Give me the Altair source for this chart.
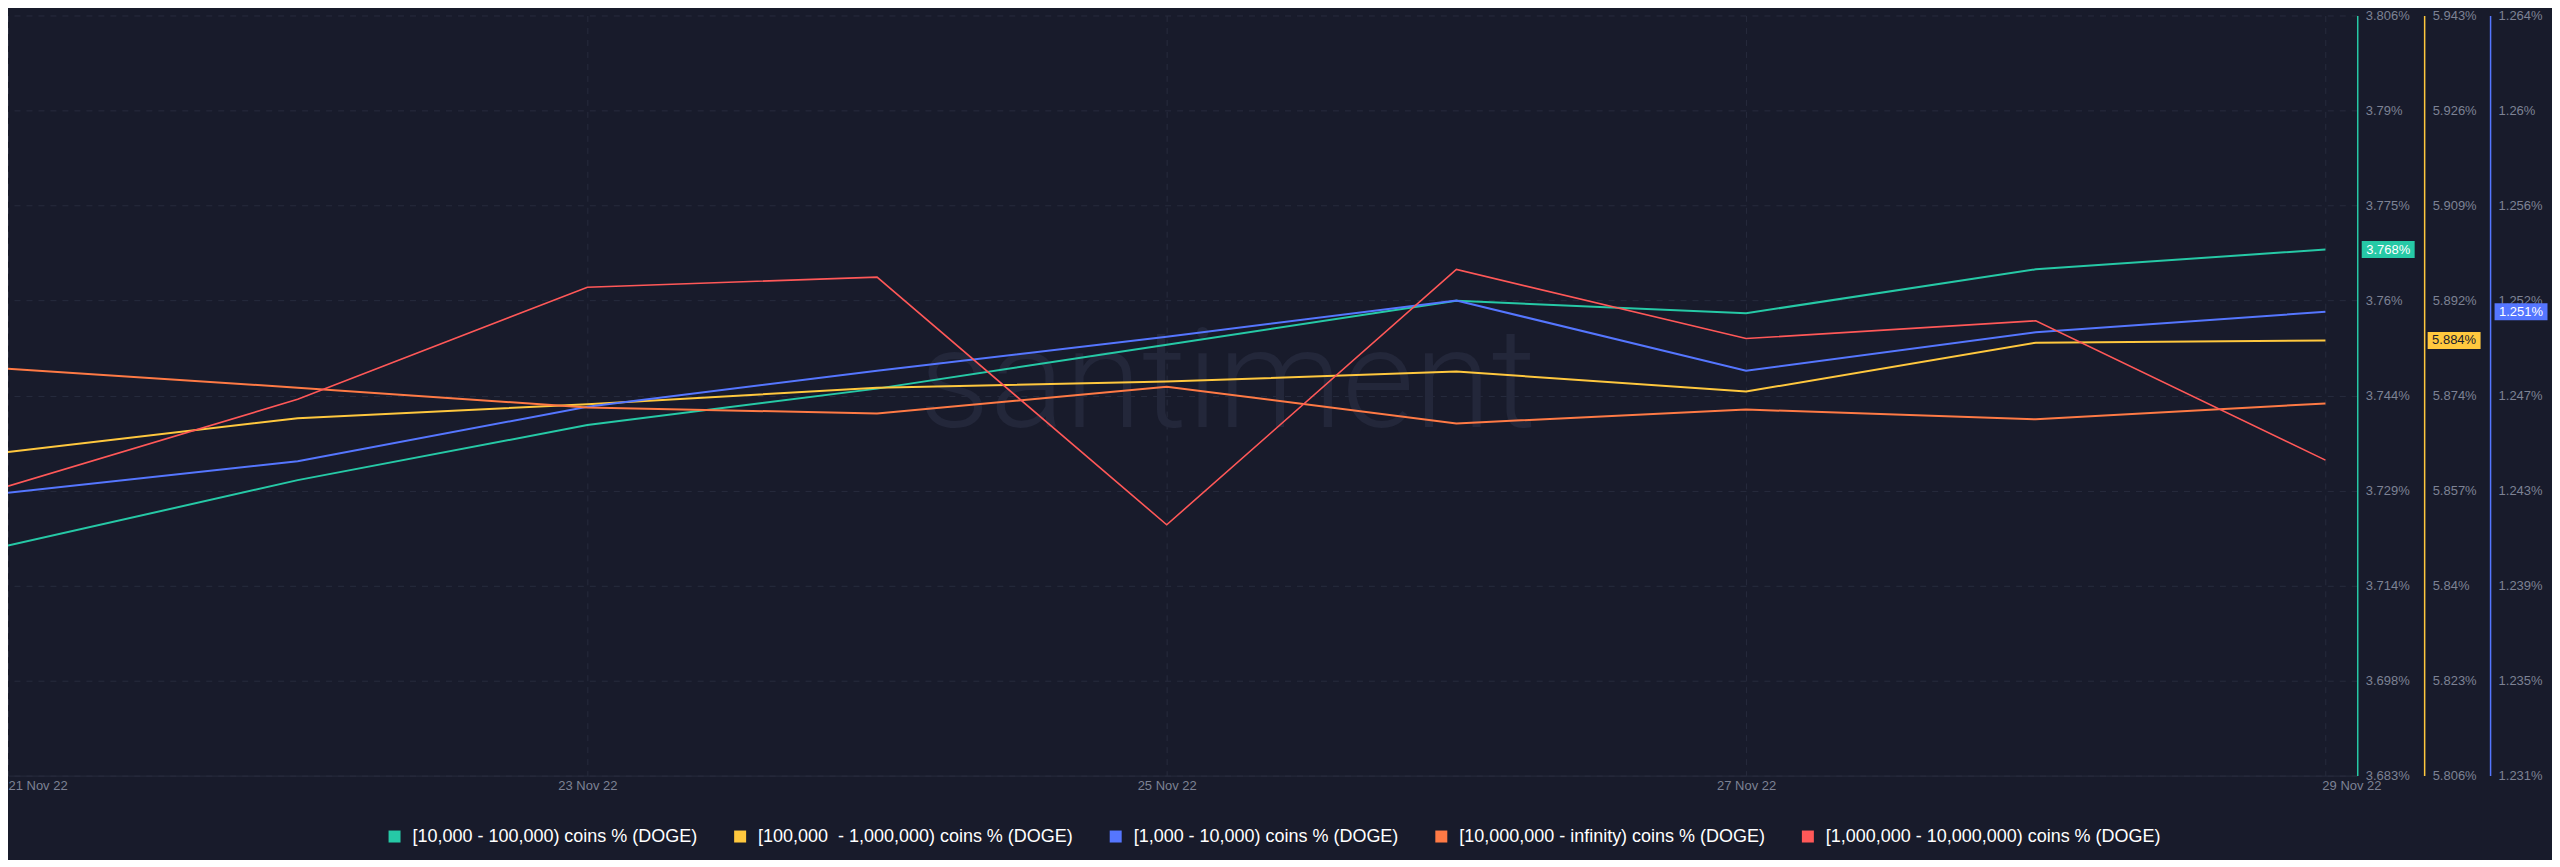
import altair as alt
import pandas as pd

# ---------------- data ----------------
dates = ["2022-11-21T00:00:00", "2022-11-22T00:00:00", "2022-11-23T00:00:00",
         "2022-11-24T00:00:00", "2022-11-25T00:00:00", "2022-11-26T00:00:00",
         "2022-11-27T00:00:00", "2022-11-28T00:00:00", "2022-11-29T00:00:00"]

series_names = [
    "[10,000 - 100,000) coins % (DOGE)",
    "[100,000\u00a0 - 1,000,000) coins % (DOGE)",
    "[1,000 - 10,000) coins % (DOGE)",
    "[10,000,000 - infinity) coins % (DOGE)",
    "[1,000,000 - 10,000,000) coins % (DOGE)",
]
series_colors = ["#26c9a6", "#ffc83e", "#5576ff", "#ff7a45", "#ff5858"]

teal_values = [3.7200, 3.7306, 3.7395, 3.7454, 3.7525, 3.7596, 3.7576, 3.7647, 3.7679]
yellow_values = [5.8643, 5.8704, 5.8729, 5.8759, 5.8770, 5.8788, 5.8752, 5.8840, 5.8844]
blue_values = [1.2431, 1.2445, 1.2469, 1.2485, 1.2500, 1.2516, 1.2485, 1.2502, 1.2511]
orange_values = [86.2606, 86.2531, 86.2453, 86.2429, 86.2535, 86.2390, 86.2445, 86.2406, 86.2469]
red_values = [2.6457, 2.6594, 2.6771, 2.6787, 2.6396, 2.6799, 2.6690, 2.6718, 2.6498]

all_values = [teal_values, yellow_values, blue_values, orange_values, red_values]

# y-domains of each series' own scale (the three visible right axes + two hidden)
domains = [
    [3.6828, 3.80576],
    [5.806, 5.94296],
    [1.2306, 1.2642],
    [86.10, 86.40],
    [2.60, 2.72],
]

x_tick_dates = [(2022, 11, 21), (2022, 11, 23), (2022, 11, 25), (2022, 11, 27), (2022, 11, 29)]

# ---------------- styling ----------------
BG = "#181b2b"
GRID = "#272b3d"
GRAY = "#7d8294"
FONT = "Liberation Sans"
PLOT_W = 2352
PLOT_H = 761

rows = []
for name, vals in zip(series_names, all_values):
    for d, v in zip(dates, vals):
        rows.append({"date": d, "series": name, "value": v})
df = pd.DataFrame(rows)

x_scale = alt.Scale(domain=[alt.DateTime(year=2022, month=11, date=21),
                            alt.DateTime(year=2022, month=11, date=29, hours=2, minutes=38)])

color_scale = alt.Scale(domain=series_names, range=series_colors)

# square symbols drawn as a thick stroke around a small square -> solid 12x12 squares
legend = alt.Legend(
    orient="none", legendX=378, legendY=813, direction="horizontal", columns=5,
    title=None, symbolType="square", symbolSize=36, symbolStrokeWidth=6,
    labelFontSize=18, labelColor="#ffffff", labelFont=FONT, labelLimit=800,
    labelOffset=9, columnPadding=27, padding=0,
)


def tick_values(dom):
    lo, hi = dom
    return [lo + i * (hi - lo) / 8 for i in range(9)]


def y_axis(idx, offset, grid):
    return alt.Axis(
        orient="right", offset=offset, values=tick_values(domains[idx]),
        labelExpr="format(datum.value, '.3~f') + '%'",
        domainColor=series_colors[idx], domainWidth=1.5,
        ticks=False, tickSize=0, labelPadding=8,
        labelColor=GRAY, labelFontSize=13, labelFont=FONT,
        labelAlign="left", labelBaseline="middle",
        labelFlush=False, labelOverlap=False, labelBound=False,
        grid=grid, gridColor=GRID, gridDash=[6, 6], gridWidth=1,
        title=None,
    )


x_axis = alt.Axis(
    values=[alt.DateTime(year=y, month=m, date=d) for (y, m, d) in x_tick_dates],
    format="%d %b %y", labelColor=GRAY, labelFontSize=13, labelFont=FONT,
    ticks=False, tickSize=0, labelPadding=4,
    domainColor=GRID, domainWidth=1,
    grid=True, gridColor=GRID, gridDash=[6, 6], gridWidth=1,
    labelFlush=True, labelOverlap=False,
    labelOffset={"condition": {"test": "datum.value > datetime(2022, 10, 28)", "value": 26},
                 "value": 0},
    title=None,
)

visible_axes = {0: y_axis(0, 0, True), 1: y_axis(1, 67, False), 2: y_axis(2, 133, False)}

layers = []

# watermark
wm = alt.Chart(pd.DataFrame({"t": ["santiment"]})).mark_text(
    font="Roboto", fontSize=140, fontWeight=300, color="#23273a",
    align="center", baseline="alphabetic",
).encode(text="t:N", x=alt.value(1221), y=alt.value(412))
layers.append(wm)

for i, name in enumerate(series_names):
    line = alt.Chart(df).transform_filter(
        alt.datum.series == name
    ).mark_line(strokeWidth=2 if i != 4 else 1.6, clip=True).encode(
        x=alt.X("date:T", scale=x_scale, axis=x_axis),
        y=alt.Y("value:Q", scale=alt.Scale(domain=domains[i], zero=False, nice=False),
                axis=visible_axes.get(i, None)),
        color=alt.Color("series:N", scale=color_scale, legend=legend),
    )
    layers.append(line)

# last-value badges on the three visible axes
BOX_PATH = "M-1,-0.32L1,-0.32L1,0.32L-1,0.32Z"
badge_x = [2383, 2449, 2516]
badge_text_color = ["#ffffff", "#1a1d2d", "#ffffff"]
last_df = df[df["date"] == dates[-1]]
for i in range(3):
    base = alt.Chart(last_df).transform_filter(alt.datum.series == series_names[i])
    ysc = alt.Y("value:Q", scale=alt.Scale(domain=domains[i], zero=False, nice=False), axis=None)
    box = base.mark_point(shape=BOX_PATH, size=2809, filled=True, fill=series_colors[i],
                          opacity=1, strokeWidth=0, clip=False).encode(
        x=alt.value(badge_x[i]), y=ysc)
    txt = base.transform_calculate(
        lab="format(datum.value, '.3f') + '%'"
    ).mark_text(align="center", baseline="middle", fontSize=13, font=FONT,
                color=badge_text_color[i], clip=False).encode(
        x=alt.value(badge_x[i]), y=ysc, text="lab:N")
    layers.append(box)
    layers.append(txt)

chart = alt.layer(*layers).resolve_scale(y="independent").properties(
    width=PLOT_W, height=PLOT_H,
    padding={"left": 0, "top": 1, "right": 4, "bottom": 8},
    background=BG,
).configure_view(stroke=None)

chart.save("out.html", embed_options={"renderer": "svg", "actions": False})
